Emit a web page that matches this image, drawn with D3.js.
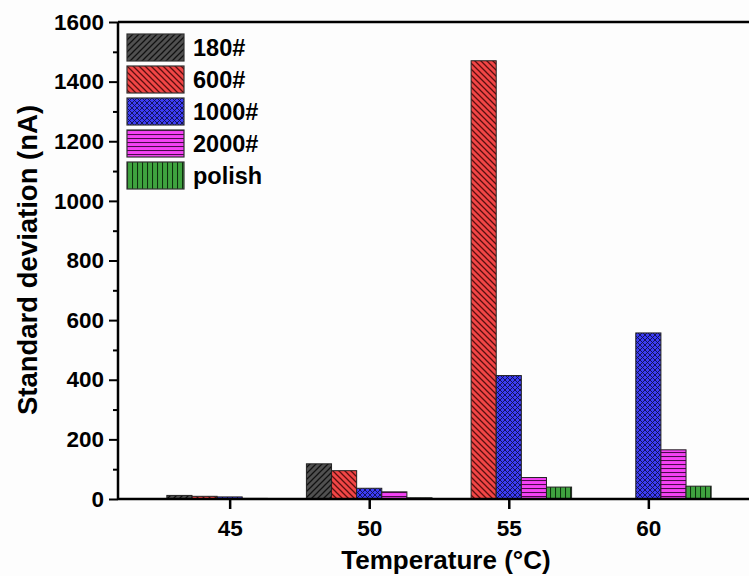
<!DOCTYPE html>
<html>
<head>
<meta charset="utf-8">
<script src="https://cdn.jsdelivr.net/npm/d3@7"></script>
<style>
  html, body { margin: 0; padding: 0; background: #fdfdfd; }
  svg { display: block; }
  text { font-family: Arial, "Liberation Sans", sans-serif; font-weight: bold; fill: #000; }
</style>
</head>
<body>
<svg id="chart" width="749" height="576"></svg>
<script>
// Temperatures (°C) on the x axis
const temperatures = [45, 50, 55, 60];
// Sample surface finishes (one bar per finish in each group)
const seriesNames = ["180#", "600#", "1000#", "2000#", "polish"];
// Standard deviation (nA) per finish, in the order of temperatures
const s180 = [12, 118, 0, 0];
const s600 = [9, 95, 1470, 0];
const s1000 = [7, 36, 414, 557];
const s2000 = [2, 24, 72, 165];
const sPolish = [1, 4, 40, 43];
const seriesValues = [s180, s600, s1000, s2000, sPolish];
const yTicks = [0, 200, 400, 600, 800, 1000, 1200, 1400, 1600];
const xTicks = [45, 50, 55, 60];

const svg = d3.select("#chart");
const pLeft = 118, pTop = 22, pBottom = 499, pRight = 760;
const FONT = "Arial, 'Liberation Sans', sans-serif";

const x = d3.scaleLinear().domain([41, 64]).range([pLeft, pRight]);
const y = d3.scaleLinear().domain([0, 1600]).range([pBottom, pTop]);

// Hatch patterns for the five series
const defs = svg.append("defs");
function hatch(id, fill, size, draw) {
  const p = defs.append("pattern").attr("id", id)
    .attr("patternUnits", "userSpaceOnUse")
    .attr("width", size).attr("height", size);
  p.append("rect").attr("width", size).attr("height", size).attr("fill", fill);
  draw(p, size);
}
hatch("p180", "#505050", 6, (p, s) => {
  p.append("path").attr("d", `M0,${s} L${s},0 M-1,1 L1,-1 M${s-1},${s+1} L${s+1},${s-1}`)
    .attr("stroke", "#111").attr("stroke-width", 1.3);
});
hatch("p600", "#f24646", 6, (p, s) => {
  p.append("path").attr("d", `M0,0 L${s},${s} M-1,${s-1} L1,${s+1} M${s-1},-1 L${s+1},1`)
    .attr("stroke", "#5a0f0f").attr("stroke-width", 1.3);
});
hatch("p1000", "#3c3cf5", 5, (p, s) => {
  p.append("path").attr("d", `M0,0 L${s},${s} M0,${s} L${s},0`)
    .attr("stroke", "#10104a").attr("stroke-width", 0.9);
});
hatch("p2000", "#f442f4", 4, (p, s) => {
  p.append("line").attr("x1", 0).attr("x2", s).attr("y1", 0.5).attr("y2", 0.5)
    .attr("stroke", "#4a0a4a").attr("stroke-width", 1.1);
});
hatch("pPolish", "#3fa33f", 5, (p, s) => {
  p.append("line").attr("y1", 0).attr("y2", s).attr("x1", 0.5).attr("x2", 0.5)
    .attr("stroke", "#0d300d").attr("stroke-width", 1.1);
});
const fills = ["url(#p180)", "url(#p600)", "url(#p1000)", "url(#p2000)", "url(#pPolish)"];

// Bars: five per temperature, centred on the tick
const barW = x(0.9) - x(0);
defs.append("clipPath").attr("id", "plotClip")
  .append("rect").attr("x", pLeft).attr("y", pTop).attr("width", pRight - pLeft).attr("height", pBottom - pTop);
const plot = svg.append("g").attr("clip-path", "url(#plotClip)");

seriesValues.forEach((vals, si) => {
  plot.selectAll(null).data(temperatures.map((t, i) => ({ t, v: vals[i] })).filter(d => d.v > 0))
    .enter().append("rect")
    .attr("x", d => x(d.t) + (si - 2.5) * barW)
    .attr("width", barW)
    .attr("y", d => y(d.v))
    .attr("height", d => y(0) - y(d.v))
    .attr("fill", fills[si])
    .attr("stroke", "#222")
    .attr("stroke-width", 1);
});

// Y axis with major and minor ticks
const yAxis = d3.axisLeft(y).tickValues(yTicks).tickSize(9).tickPadding(5).tickFormat(d3.format("d"));
const gy = svg.append("g").attr("transform", `translate(${pLeft},0)`).call(yAxis);
gy.select(".domain").remove();
gy.selectAll(".tick line").attr("stroke", "#000").attr("stroke-width", 2);
gy.selectAll(".tick text").attr("font-size", 22.5).attr("font-weight", "bold")
  .attr("font-family", FONT).attr("fill", "#000");
const gyMinor = svg.append("g").attr("transform", `translate(${pLeft},0)`)
  .call(d3.axisLeft(y).tickValues(d3.range(100, 1600, 200)).tickSize(5).tickFormat(""));
gyMinor.select(".domain").remove();
gyMinor.selectAll(".tick line").attr("stroke", "#000").attr("stroke-width", 2);

// X axis
const xAxis = d3.axisBottom(x).tickValues(xTicks).tickSize(10).tickPadding(11).tickFormat(d3.format("d"));
const gx = svg.append("g").attr("transform", `translate(0,${pBottom})`).call(xAxis);
gx.select(".domain").remove();
gx.selectAll(".tick line").attr("stroke", "#000").attr("stroke-width", 2.5);
gx.selectAll(".tick text").attr("font-size", 22.5).attr("font-weight", "bold")
  .attr("font-family", FONT).attr("fill", "#000");

// Frame
svg.append("path")
  .attr("d", `M${pLeft},${pTop} L${pRight},${pTop} M${pLeft},${pTop} L${pLeft},${pBottom} M${pLeft},${pBottom} L${pRight},${pBottom}`)
  .attr("stroke", "#000").attr("stroke-width", 2.5).attr("fill", "none");

// Axis titles
svg.append("text").attr("x", 446).attr("y", 569).attr("text-anchor", "middle")
  .attr("font-size", 26).text("Temperature (°C)");
svg.append("text").attr("transform", "translate(37,260) rotate(-90)").attr("text-anchor", "middle")
  .attr("font-size", 27.5).text("Standard deviation (nA)");

// Legend
const lg = svg.append("g").attr("transform", "translate(127,34)");
seriesNames.forEach((name, i) => {
  const gi = lg.append("g").attr("transform", `translate(0,${i * 32})`);
  gi.append("rect").attr("width", 57).attr("height", 27).attr("fill", fills[i])
    .attr("stroke", "#333").attr("stroke-width", 1.2);
  gi.append("text").attr("x", 66).attr("y", 22).attr("font-size", 23.5).text(name);
});
</script>
</body>
</html>
